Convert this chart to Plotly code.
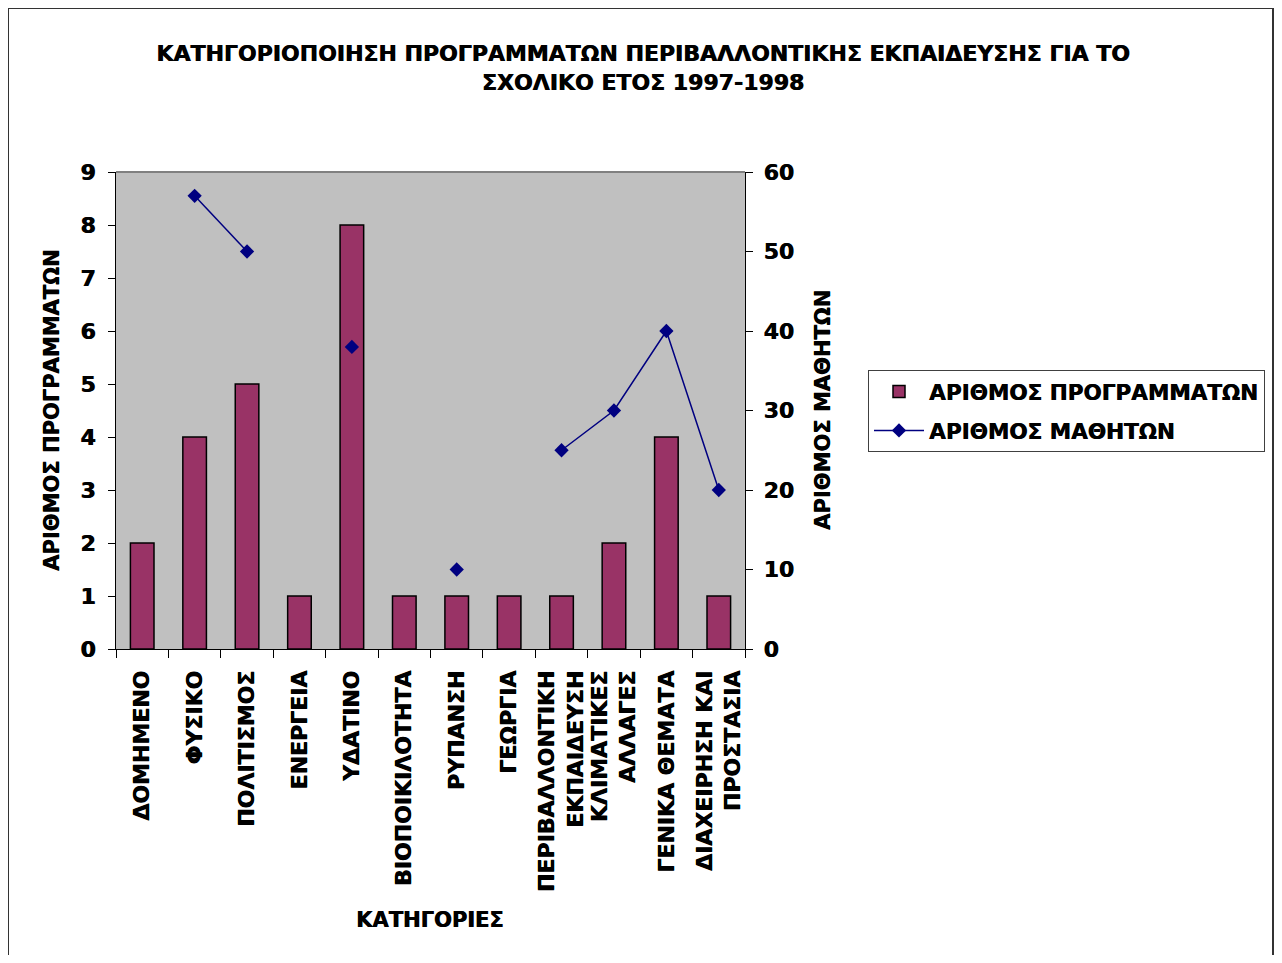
import plotly.graph_objects as go

categories = ["ΔΟΜΗΜΕΝΟ", "ΦΥΣΙΚΟ", "ΠΟΛΙΤΙΣΜΟΣ", "ΕΝΕΡΓΕΙΑ", "ΥΔΑΤΙΝΟ",
              "ΒΙΟΠΟΙΚΙΛΟΤΗΤΑ", "ΡΥΠΑΝΣΗ", "ΓΕΩΡΓΙΑ",
              "ΠΕΡΙΒΑΛΛΟΝΤΙΚΗ<br>ΕΚΠΑΙΔΕΥΣΗ", "ΚΛΙΜΑΤΙΚΕΣ<br>ΑΛΛΑΓΕΣ",
              "ΓΕΝΙΚΑ ΘΕΜΑΤΑ", "ΔΙΑΧΕΙΡΗΣΗ ΚΑΙ<br>ΠΡΟΣΤΑΣΙΑ"]
programs = [2, 4, 5, 1, 8, 1, 1, 1, 1, 2, 4, 1]
students = [None, 57, 50, None, 38, None, 10, None, 25, 30, 40, 20]
left_ticks = list(range(0, 10))
right_ticks = list(range(0, 70, 10))

FONT = "DejaVu Sans"
SH = "0.6px 0 0 black"  # slight thickening to mimic a heavy face
OFF = 8  # page body margin
W, H = 1282 - 2 * OFF, 963 - 2 * OFF
# plot area edges in page pixels
PL, PR, PT, PB = 116, 745, 172, 649
L, R, T, B = PL - OFF, PR - OFF, PT - OFF, PB - OFF

def px_x(p):  # page px -> paper
    return (p - PL) / (PR - PL)

def px_y(p):
    return (PB - p) / (PB - PT)

fig = go.Figure()
fig.add_trace(go.Bar(
    x=categories, y=programs, name="ΑΡΙΘΜΟΣ ΠΡΟΓΡΑΜΜΑΤΩΝ", legendgroup="a",
    marker=dict(color="#993366", line=dict(color="black", width=1.5)),
    yaxis="y",
))
fig.add_trace(go.Scatter(
    x=categories, y=students, name="ΑΡΙΘΜΟΣ ΜΑΘΗΤΩΝ", legendgroup="b",
    mode="lines+markers", connectgaps=False,
    line=dict(color="#000080", width=1.5),
    marker=dict(symbol="diamond", size=11, color="#000080"),
    yaxis="y2",
))

tickfont = dict(family=FONT, size=22, weight="bold", shadow=SH)

fig.update_layout(
    width=W, height=H,
    margin=dict(l=L, r=W - R, t=T, b=H - B, autoexpand=False),
    paper_bgcolor="white", plot_bgcolor="#C0C0C0",
    bargap=0.55,
    font=dict(family=FONT, size=22, color="black"),
    title=dict(
        text="<b>ΚΑΤΗΓΟΡΙΟΠΟΙΗΣΗ ΠΡΟΓΡΑΜΜΑΤΩΝ ΠΕΡΙΒΑΛΛΟΝΤΙΚΗΣ ΕΚΠΑΙΔΕΥΣΗΣ ΓΙΑ ΤΟ<br>ΣΧΟΛΙΚΟ ΕΤΟΣ 1997-1998</b>",
        x=(643 - OFF) / W, xanchor="center", y=1 - (61 - OFF) / H, yanchor="middle",
        font=dict(family=FONT, size=22, shadow=SH),
    ),
    xaxis=dict(
        range=[-0.5, len(categories) - 0.5],
        tickangle=-90, tickfont=tickfont,
        ticks="outside", ticklen=8, tickcolor="black", tickson="boundaries",
        ticklabelstandoff=12,
        showline=True, linecolor="black", linewidth=1,
        showgrid=False, zeroline=False,
    ),
    yaxis=dict(
        range=[0, 9], tickvals=left_ticks, tickfont=tickfont,
        ticks="outside", ticklen=7, tickcolor="black", ticklabelstandoff=8,
        showline=True, linecolor="black", linewidth=1,
        showgrid=False, zeroline=False,
    ),
    yaxis2=dict(
        range=[0, 60], tickvals=right_ticks, overlaying="y", side="right",
        tickfont=tickfont,
        ticks="outside", ticklen=7, tickcolor="black", ticklabelstandoff=6,
        showline=True, linecolor="black", linewidth=1,
        showgrid=False, zeroline=False,
    ),
    legend=dict(
        x=px_x(868), y=px_y(370), xanchor="left", yanchor="top",
        bordercolor="#404040", borderwidth=1, bgcolor="white",
        font=dict(family=FONT, size=21.5, weight="bold", shadow=SH),
        tracegroupgap=8, itemwidth=50,
    ),
    showlegend=True,
)

annotations = [
    dict(text="<b>ΑΡΙΘΜΟΣ ΠΡΟΓΡΑΜΜΑΤΩΝ</b>", x=px_x(52), y=px_y(411), textangle=-90),
    dict(text="<b>ΑΡΙΘΜΟΣ ΜΑΘΗΤΩΝ</b>", x=px_x(823), y=px_y(410), textangle=-90),
    dict(text="<b>ΚΑΤΗΓΟΡΙΕΣ</b>", x=px_x(430), y=px_y(920), textangle=0),
]
for a in annotations:
    fig.add_annotation(xref="paper", yref="paper", showarrow=False,
                       xanchor="center", yanchor="middle",
                       font=dict(family=FONT, size=21, shadow=SH), **a)

# outer chart border
fig.add_shape(type="rect", xref="paper", yref="paper",
              x0=px_x(8), x1=px_x(1273), y0=px_y(975), y1=px_y(8),
              line=dict(color="#333333", width=2), layer="below")
# top edge of plot area
fig.add_shape(type="line", xref="paper", yref="paper",
              x0=0, x1=1, y0=1, y1=1, line=dict(color="#808080", width=2))

fig.write_html("out.html")
